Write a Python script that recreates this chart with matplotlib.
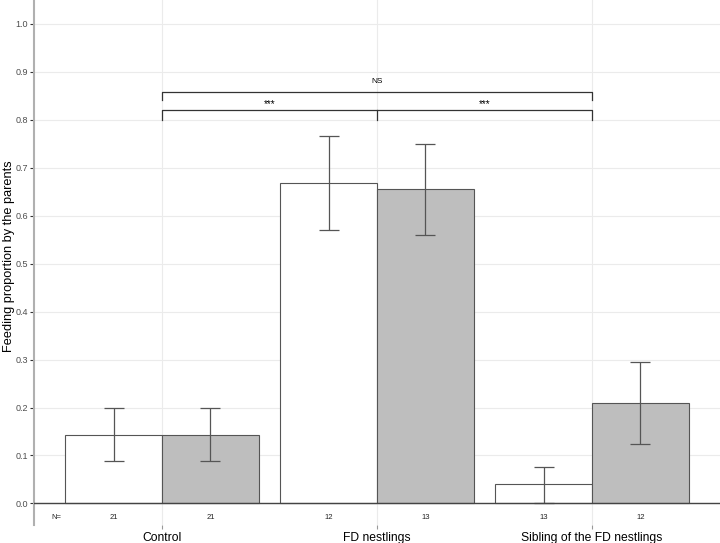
import numpy as np
import matplotlib
matplotlib.use("Agg")
import matplotlib.pyplot as plt

plt.rcParams["font.family"] = ["Liberation Sans", "DejaVu Sans"]

# Data
groups = ["Control", "FD nestlings", "Sibling of the FD nestlings"]
white_vals = [0.143, 0.668, 0.040]
white_low = [0.088, 0.570, 0.000]
white_high = [0.198, 0.766, 0.077]
grey_vals = [0.143, 0.655, 0.209]
grey_low = [0.088, 0.559, 0.123]
grey_high = [0.198, 0.749, 0.294]
white_n = [21, 12, 13]
grey_n = [21, 13, 12]

x = np.arange(1, len(groups) + 1)
w = 0.45

fig = plt.figure(figsize=(7.2, 5.43), dpi=100)
ax = fig.add_axes([34 / 720, 18 / 543, 1 - 34 / 720, 1 - 18 / 543])

# Grid
ax.set_axisbelow(True)
ax.set_yticks(np.arange(0, 1.01, 0.1))
ax.set_xticks(x)
ax.grid(True, color="#ebebeb", linewidth=0.8)

edge = "#555555"
ax.bar(x - w / 2, white_vals, width=w, color="white", edgecolor=edge, linewidth=0.8, zorder=2)
ax.bar(x + w / 2, grey_vals, width=w, color="#bebebe", edgecolor=edge, linewidth=0.8, zorder=2)

for offs, vals, lo, hi in [(-w / 2, white_vals, white_low, white_high),
                           (w / 2, grey_vals, grey_low, grey_high)]:
    vals = np.array(vals)
    yerr = [vals - np.array(lo), np.array(hi) - vals]
    ax.errorbar(x + offs, vals, yerr=yerr, fmt="none", ecolor=edge,
                elinewidth=0.9, capsize=7.2, capthick=0.9, zorder=3)

ax.axhline(0, color="#444444", linewidth=1.0, zorder=4)

# Sample sizes
ax.text(0.51, -0.030, "N=", ha="center", va="center", fontsize=5.5, color="#222222")
for xi, n1, n2 in zip(x, white_n, grey_n):
    ax.text(xi - w / 2, -0.030, str(n1), ha="center", va="center", fontsize=5.5, color="#222222")
    ax.text(xi + w / 2, -0.030, str(n2), ha="center", va="center", fontsize=5.5, color="#222222")

# Significance brackets
bc = "#333333"
ax.plot([1, 1, 3, 3], [0.840, 0.858, 0.858, 0.840], color=bc, linewidth=0.9)
ax.text(2, 0.879, "NS", ha="center", va="center", fontsize=6)
ax.plot([1, 1, 3, 3], [0.800, 0.820, 0.820, 0.800], color=bc, linewidth=0.9)
ax.plot([2, 2], [0.800, 0.820], color=bc, linewidth=0.9)
ax.text(1.5, 0.833, "***", ha="center", va="center", fontsize=7)
ax.text(2.5, 0.833, "***", ha="center", va="center", fontsize=7)

ax.set_xlim(0.405, 3.595)
ax.set_ylim(-0.0448, 1.049)
ax.set_xticklabels(groups, fontsize=8.7)
ax.set_yticklabels([f"{v:.1f}" for v in np.arange(0, 1.01, 0.1)], fontsize=6.5, color="#4d4d4d")
ax.tick_params(axis="y", length=3, color="#333333", pad=1.5)
ax.tick_params(axis="x", length=3, color="#999999", pad=2)
ax.set_ylabel("Feeding proportion by the parents", fontsize=9.2, va="center")
ax.yaxis.set_label_coords(-0.0364, 0.512)

for s in ["top", "right", "bottom"]:
    ax.spines[s].set_visible(False)
ax.spines["left"].set_color("#b0b0b0")
ax.spines["left"].set_linewidth(1.5)

fig.savefig("out.png", dpi=100)
